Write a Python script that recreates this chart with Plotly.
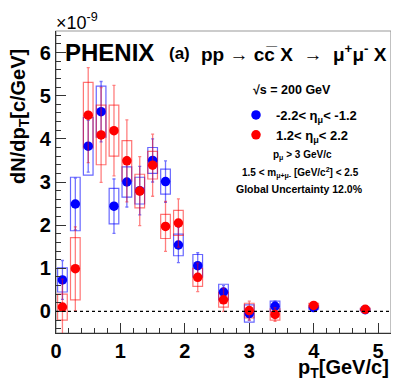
import plotly.graph_objects as go

# PHENIX open charm -> dimuon, dN/dpT in units of 1e-9 c/GeV
pt = [0.1, 0.3, 0.5, 0.7, 0.9, 1.1, 1.3, 1.5, 1.7, 1.9, 2.2, 2.6, 3.0, 3.4, 4.0, 4.8]

# backward arm, -2.2 < eta < -1.2
south_y = [0.73, 2.49, 3.83, 4.63, 2.44, 3.00, 2.80, 3.50, 3.01, 1.54, 1.06, 0.45, -0.05, 0.12, 0.09, 0.04]
south_stat = [0.45, 0.60, 0.60, 0.70, 0.63, 0.58, 0.56, 0.50, 0.48, 0.41, 0.30, 0.15, 0.15, 0.12, 0.04, 0.03]
south_sys = [0.28, 0.62, 0.67, 0.59, 0.41, 0.35, 0.31, 0.30, 0.29, 0.25, 0.26, 0.18, 0.20, 0.12, 0.04, 0.02]

# forward arm, 1.2 < eta < 2.2
north_y = [0.10, 0.99, 4.55, 4.09, 4.19, 3.49, 2.79, 3.39, 1.97, 2.05, 0.79, 0.27, 0.02, -0.07, 0.14, 0.05]
north_stat = [0.65, 0.97, 1.10, 1.10, 1.05, 0.95, 0.80, 0.72, 0.58, 0.56, 0.33, 0.27, 0.22, 0.16, 0.05, 0.03]
north_sys = [0.30, 0.72, 0.76, 0.69, 0.59, 0.47, 0.39, 0.32, 0.28, 0.29, 0.21, 0.17, 0.17, 0.13, 0.05, 0.03]

FONT = "Liberation Sans, Arial, Helvetica, sans-serif"
BLUE = "#0000ff"
RED = "#ff0000"

# the page body keeps its default 8px margin, so the figure is drawn
# 8px smaller and everything below is in page pixels minus that offset
OFF = 8
W, H = 399 - OFF, 387 - OFF
L, R, T, B = 56 - OFF, 391 - OFF, 31 - OFF, 333 - OFF


def px(xp, yp):
    # page pixel -> paper coords
    return (xp - OFF - L) / (R - L), (B - (yp - OFF)) / (B - T)


def sys_boxes(y, sys, col):
    return go.Bar(
        x=pt, y=[2 * s for s in sys], base=[v - s for v, s in zip(y, sys)],
        width=0.15, showlegend=False, hoverinfo="skip",
        marker=dict(color="rgba(0,0,0,0)", line=dict(color=col, width=1.2)),
    )


def points(y, stat, col, errcol, name):
    return go.Scatter(
        x=pt, y=y, mode="markers", name=name,
        marker=dict(color=col, size=9.5),
        error_y=dict(type="data", array=stat, color=errcol, thickness=1.3, width=1.5),
    )


fig = go.Figure()
fig.add_trace(sys_boxes(south_y, south_sys, "rgba(0,0,255,0.6)"))
fig.add_trace(sys_boxes(north_y, north_sys, "rgba(255,0,0,0.55)"))
fig.add_trace(points(south_y, south_stat, BLUE, "rgba(0,0,255,0.55)",
                     "-2.2< η<sub>μ</sub>< -1.2"))
fig.add_trace(points(north_y, north_stat, RED, "rgba(255,0,0,0.5)",
                     "1.2< η<sub>μ</sub>< 2.2"))

fig.add_hline(y=0, line=dict(color="black", width=1.3, dash="dot"))
fig.add_shape(type="rect", xref="paper", yref="paper", x0=0, x1=1, y0=0, y1=1,
              line=dict(color="#999999", width=1.2), layer="below")

axis_common = dict(
    showgrid=False, zeroline=False, showline=True, linecolor="#333333", linewidth=1.2,
    automargin=False,
    ticks="inside", ticklen=10, tickcolor="#333333", dtick=1, tick0=0,
    tickfont=dict(family=FONT, size=20, color="black", weight="bold"),
    minor=dict(ticks="inside", ticklen=5, dtick=0.2, tickcolor="#333333"),
)
fig.update_xaxes(range=[0, 5.2], **axis_common)
fig.update_yaxes(range=[-0.5, 6.5], **axis_common)


def note(text, xp, yp, size, anchor="left", bold=True, **kw):
    x, y = px(xp, yp)
    fig.add_annotation(
        text=text, x=x, y=y, xref="paper", yref="paper", showarrow=False,
        xanchor=anchor, yanchor="middle",
        font=dict(family=FONT, size=size, color="black", weight="bold" if bold else "normal"),
        **kw,
    )


note("PHENIX", 63, 52, 24)
note("(a)", 167, 53, 17)
note("pp \u2192 cc\u0305 X  \u2192  \u03bc<sup>+</sup>\u03bc<sup>-</sup> X", 389, 53, 19, anchor="right")
note("\u221as = 200 GeV", 292, 90, 12.5, anchor="center")
note("p<sub>\u03bc</sub> > 3 GeV/c", 302, 155, 10, anchor="center")
note("1.5 < m<sub>\u03bc+\u03bc-</sub> [GeV/c<sup>2</sup>] < 2.5", 300, 173, 10, anchor="center")
note("Global Uncertainty 12.0%", 299, 189, 10.5, anchor="center")
note("\u00d710<sup>-9</sup>", 54, 21, 18, bold=False)
note("p<sub>T</sub>[GeV/c]", 391, 368, 20, anchor="right")
note("dN/dp<sub>T</sub>[c/GeV]", 19, 117, 20, anchor="center", textangle=-90)

lx, ly = px(236, 100)
fig.update_layout(
    width=W, height=H,
    margin=dict(l=L, r=W - R, t=T, b=H - B),
    paper_bgcolor="white", plot_bgcolor="white",
    barmode="overlay",
    legend=dict(x=lx, y=ly, xanchor="left", yanchor="top", bgcolor="rgba(0,0,0,0)",
                font=dict(family=FONT, size=13, color="black", weight="bold"),
                itemwidth=30, tracegroupgap=0),
)

fig.write_html("out.html")
